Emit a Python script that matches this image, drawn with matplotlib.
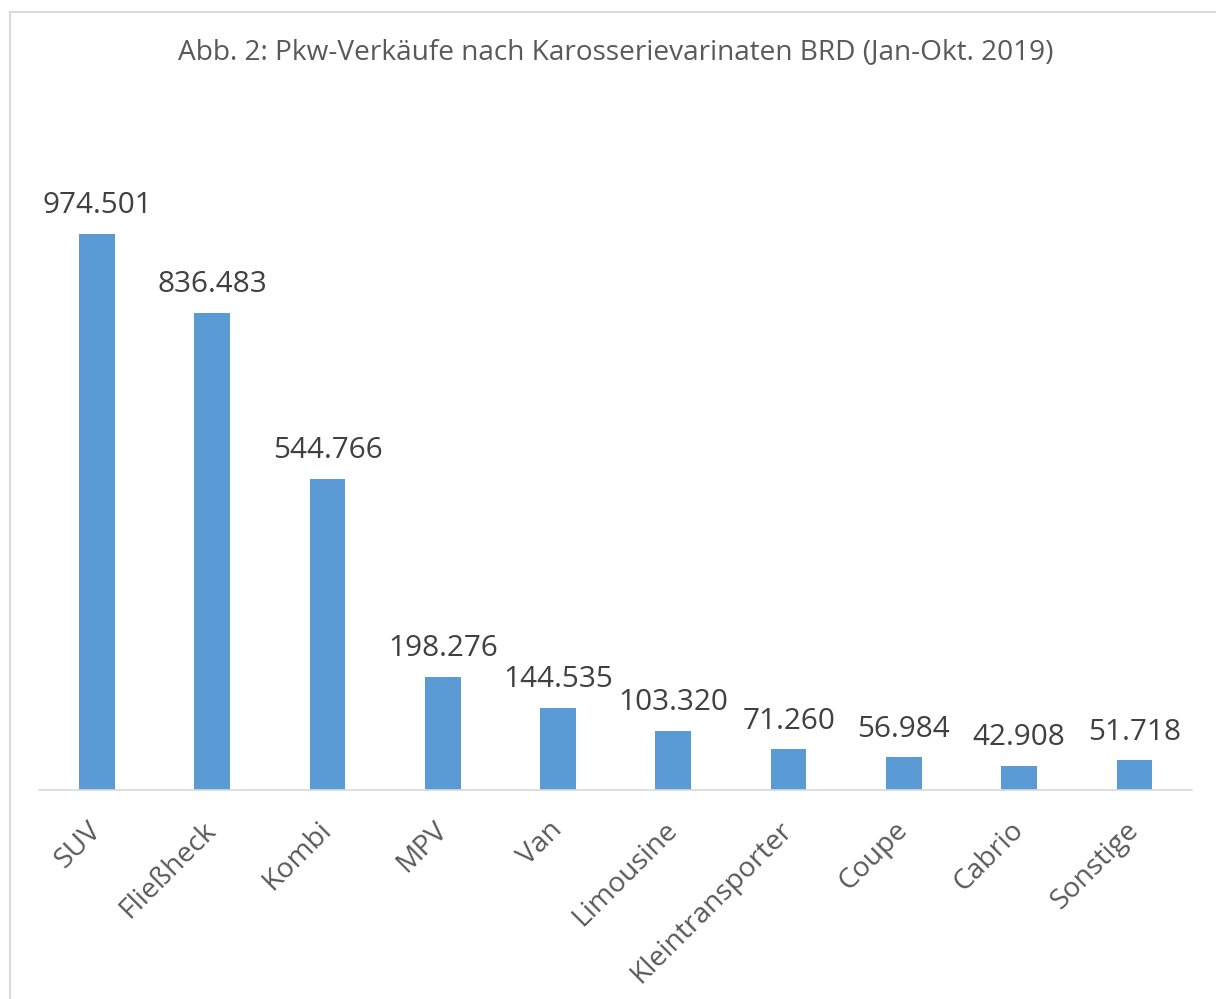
import matplotlib.pyplot as plt
from matplotlib.lines import Line2D

# Daten: Pkw-Verkäufe nach Karosserievariante, Jan-Okt 2019
kategorien = ["SUV", "Fließheck", "Kombi", "MPV", "Van", "Limousine",
              "Kleintransporter", "Coupe", "Cabrio", "Sonstige"]
verkaeufe = [974501, 836483, 544766, 198276, 144535, 103320,
             71260, 56984, 42908, 51718]

TITEL = "Abb. 2: Pkw-Verkäufe nach Karosserievarinaten BRD (Jan-Okt. 2019)"

BAR_COL = "#5b9bd5"
TXT_COL = "#404040"
GRAY = "#595959"
LINE_COL = "#d9d9d9"

W, H = 1216, 999
plt.rcParams["font.family"] = ["Open Sans", "DejaVu Sans"]

fig = plt.figure(figsize=(W / 100, H / 100), dpi=100)

# Achse in Pixelkoordinaten platzieren
left, right, bottom, top = 39.4, 1192, 790, 105.4
ax = fig.add_axes([left / W, 1 - bottom / H, (right - left) / W, (bottom - top) / H])

x = range(len(kategorien))
ax.bar(x, verkaeufe, width=0.31, color=BAR_COL)
ax.set_xlim(-0.5, len(kategorien) - 0.5)
ax.set_ylim(0, 1200000)

for xi, v in zip(x, verkaeufe):
    label = f"{v:,}".replace(",", ".")
    ax.annotate(label, (xi, v), xytext=(0, 15), textcoords="offset points",
                ha="center", va="baseline", fontsize=21.4, color=TXT_COL)

ax.set_xticks(list(x))
ax.set_xticklabels(kategorien, rotation=45, ha="right", va="center",
                   rotation_mode="anchor", fontsize=20.3, color=GRAY)
ax.tick_params(axis="x", length=0, pad=26)
ax.set_yticks([])
for s in ["top", "left", "right"]:
    ax.spines[s].set_visible(False)
ax.spines["bottom"].set_color(LINE_COL)
ax.spines["bottom"].set_linewidth(1.2)

fig.text(616 / W, 1 - 52 / H, TITEL, ha="center", va="center",
         fontsize=20.2, color=GRAY)

# Rahmen des Diagramms (rechts und unten abgeschnitten)
fig.add_artist(Line2D([10 / W, 10 / W], [0, 1 - 12 / H], transform=fig.transFigure,
                      color=LINE_COL, linewidth=1.5))
fig.add_artist(Line2D([10 / W, 1], [1 - 12 / H, 1 - 12 / H], transform=fig.transFigure,
                      color=LINE_COL, linewidth=1.5))

fig.savefig("out.png", dpi=100, facecolor="white")
